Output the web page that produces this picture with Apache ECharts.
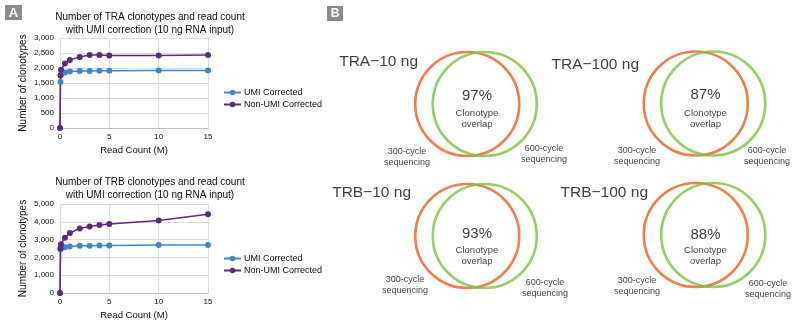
<!DOCTYPE html>
<html>
<head>
<meta charset="utf-8">
<script src="https://cdn.jsdelivr.net/npm/echarts@6/dist/echarts.min.js"></script>
<style>html,body{margin:0;padding:0;background:#fff;}#c{width:800px;height:321px;}</style>
</head>
<body>
<div id="c"></div>
<script>
// ---- Data ----
const readCounts = [0, 0.05, 0.1, 0.5, 1, 2, 3, 4, 5, 10, 15];
const traUmi    = [0, 1530, 1780, 1850, 1880, 1900, 1900, 1910, 1910, 1915, 1915];
const traNonUmi = [0, 1750, 1940, 2150, 2270, 2370, 2430, 2430, 2420, 2420, 2430];
const trbUmi    = [0, 2460, 2530, 2570, 2610, 2650, 2660, 2670, 2670, 2690, 2690];
const trbNonUmi = [0, 2500, 2740, 3110, 3370, 3630, 3740, 3815, 3870, 4075, 4420];
const seriesNames = ['UMI Corrected', 'Non-UMI Corrected'];
const chartTitles = [
  'Number of TRA clonotypes and read count\nwith UMI correction (10 ng RNA input)',
  'Number of TRB clonotypes and read count\nwith UMI correction (10 ng RNA input)'
];
const xTicks = [0, 5, 10, 15];
const traYTicks = [0, 500, 1000, 1500, 2000, 2500, 3000];
const trbYTicks = [0, 1000, 2000, 3000, 4000, 5000];
const vennTitles = ['TRA\u221210 ng', 'TRA\u2212100 ng', 'TRB\u221210 ng', 'TRB\u2212100 ng'];
const vennOverlap = [97, 87, 93, 88];
const vennLeftLabel = '300-cycle\nsequencing';
const vennRightLabel = '600-cycle\nsequencing';
const vennCenterLabel = 'Clonotype\noverlap';

// ---- Layout (pixel frame of panel B) ----
const vennLayout = [
  {cx: 476,   cy: 104,   tX: 418, tY: 62,  pY: 96,  cY: 119, lX: 407, lY: 157, rX: 544, rY: 154},
  {cx: 704.5, cy: 103.5, tX: 639, tY: 65,  pY: 95,  cY: 119, lX: 637, lY: 156, rX: 767, rY: 156},
  {cx: 476,   cy: 236,   tX: 411, tY: 193, pY: 234, cY: 256, lX: 405, lY: 285, rX: 545, rY: 288},
  {cx: 704.5, cy: 235,   tX: 648, tY: 193, pY: 235, cY: 256, lX: 637, lY: 286, rX: 768, rY: 289}
];
const vennHalfShift = 8.75;
const FONT = 'Liberation Sans, Arial, sans-serif';
const TXT = '#0d0d0d';
const BLUE = '#3e87c9';
const PURPLE = '#5c2a7c';
const ORANGE = '#e85f26';
const GREEN = '#7cc242';

const chart = echarts.init(document.getElementById('c'), null, {renderer: 'canvas'});

function pairs(xs, ys) { return xs.map((x, i) => [x, ys[i]]); }
const fmt = v => Number(v).toLocaleString('en-US');

function xAxisCfg(gridIndex) {
  return {
    gridIndex, type: 'value', min: xTicks[0], max: xTicks[xTicks.length - 1], interval: xTicks[1] - xTicks[0],
    name: 'Read Count (M)', nameLocation: 'middle', nameGap: 17,
    nameTextStyle: {fontFamily: FONT, fontSize: 9.5, color: TXT},
    axisLine: {show: true, lineStyle: {color: '#bfbfbf'}},
    axisTick: {show: false},
    axisLabel: {fontFamily: FONT, fontSize: 8, color: TXT, margin: 5},
    splitLine: {show: true, lineStyle: {color: '#dcdcdc', width: 1}}
  };
}
function yAxisCfg(gridIndex, ticks) {
  return {
    gridIndex, type: 'value', min: ticks[0], max: ticks[ticks.length - 1], interval: ticks[1] - ticks[0],
    name: 'Number of clonotypes', nameLocation: 'middle', nameGap: 32, nameRotate: 90,
    nameTextStyle: {fontFamily: FONT, fontSize: 10, color: TXT},
    axisLine: {show: false}, axisTick: {show: false},
    axisLabel: {fontFamily: FONT, fontSize: 8, color: TXT, margin: 6, formatter: fmt},
    splitLine: {show: true, lineStyle: {color: '#dcdcdc', width: 1}}
  };
}
function lineSeries(name, color, data, idx) {
  return {
    name, type: 'line', xAxisIndex: idx, yAxisIndex: idx, data,
    symbol: 'circle', symbolSize: 6, showSymbol: true,
    lineStyle: {color, width: 1.5}, itemStyle: {color},
    animation: false
  };
}

// Venn marks
const orangeCircles = vennLayout.map(l => [l.cx - vennHalfShift, l.cy]);
const greenCircles = vennLayout.map(l => [l.cx + vennHalfShift, l.cy]);
const textItems = [];
vennLayout.forEach((l, i) => {
  textItems.push({value: [l.tX, l.tY], label: {formatter: vennTitles[i], fontSize: 15.5, align: 'right', verticalAlign: 'middle'}});
  textItems.push({value: [l.cx + 1, l.pY], label: {formatter: vennOverlap[i] + '%', fontSize: 15, align: 'center', verticalAlign: 'middle'}});
  textItems.push({value: [l.cx + 1, l.cY], label: {formatter: vennCenterLabel, fontSize: 9.5, lineHeight: 10.5, align: 'center', verticalAlign: 'middle'}});
  textItems.push({value: [l.lX, l.lY], label: {formatter: vennLeftLabel, fontSize: 9, lineHeight: 10.5, align: 'center', verticalAlign: 'middle'}});
  textItems.push({value: [l.rX, l.rY], label: {formatter: vennRightLabel, fontSize: 9, lineHeight: 10.5, align: 'center', verticalAlign: 'middle'}});
});

const legendCfg = top => ({
  data: seriesNames, orient: 'vertical', left: 218, top,
  itemWidth: 17, itemHeight: 7, itemGap: 3,
  textStyle: {fontFamily: FONT, fontSize: 9, color: TXT, padding: [0, 0, 0, -2]},
  selectedMode: false
});

const option = {
  animation: false,
  backgroundColor: '#fff',
  textStyle: {fontFamily: FONT},
  title: [
    {text: chartTitles[0], left: 145, top: 5, textAlign: 'center',
     textStyle: {fontFamily: FONT, fontSize: 10, fontWeight: 'normal', color: TXT, lineHeight: 13.5}},
    {text: chartTitles[1], left: 145, top: 170, textAlign: 'center',
     textStyle: {fontFamily: FONT, fontSize: 10, fontWeight: 'normal', color: TXT, lineHeight: 13.5}}
  ],
  legend: [legendCfg(83), legendCfg(249)],
  grid: [
    {left: 60, top: 38, width: 148, height: 90},
    {left: 60, top: 204, width: 148, height: 90},
    {left: 0, top: 0, width: 800, height: 321}
  ],
  xAxis: [
    xAxisCfg(0), xAxisCfg(1),
    {gridIndex: 2, type: 'value', min: 0, max: 800, show: false}
  ],
  yAxis: [
    yAxisCfg(0, traYTicks), yAxisCfg(1, trbYTicks),
    {gridIndex: 2, type: 'value', min: 0, max: 321, inverse: true, show: false}
  ],
  series: [
    lineSeries(seriesNames[0], BLUE, pairs(readCounts, traUmi), 0),
    lineSeries(seriesNames[1], PURPLE, pairs(readCounts, traNonUmi), 0),
    lineSeries(seriesNames[0], BLUE, pairs(readCounts, trbUmi), 1),
    lineSeries(seriesNames[1], PURPLE, pairs(readCounts, trbNonUmi), 1),
    {type: 'scatter', xAxisIndex: 2, yAxisIndex: 2, data: orangeCircles, symbol: 'circle', symbolSize: 104, silent: true,
     itemStyle: {color: 'rgba(0,0,0,0)', borderColor: ORANGE, borderWidth: 2.6}},
    {type: 'scatter', xAxisIndex: 2, yAxisIndex: 2, data: greenCircles, symbol: 'circle', symbolSize: 104, silent: true,
     itemStyle: {color: 'rgba(0,0,0,0)', borderColor: GREEN, borderWidth: 2.6}},
    {type: 'scatter', xAxisIndex: 2, yAxisIndex: 2, data: textItems, symbolSize: 0, silent: true,
     itemStyle: {color: 'rgba(0,0,0,0)'},
     label: {show: true, position: 'inside', fontFamily: FONT, color: TXT}}
  ],
  graphic: [
    {type: 'group', left: 5, top: 5, children: [
      {type: 'rect', shape: {x: 0, y: 0, width: 17, height: 15}, style: {fill: '#8c8c8c'}},
      {type: 'text', x: 8.5, y: 8, style: {text: 'A', fill: '#fff', font: 'bold 13px ' + FONT, textAlign: 'center', textVerticalAlign: 'middle'}}
    ]},
    {type: 'group', left: 327, top: 6, children: [
      {type: 'rect', shape: {x: 0, y: 0, width: 16, height: 15}, style: {fill: '#8c8c8c'}},
      {type: 'text', x: 8, y: 8, style: {text: 'B', fill: '#fff', font: 'bold 12px ' + FONT, textAlign: 'center', textVerticalAlign: 'middle'}}
    ]}
  ]
};
chart.setOption(option);
</script>
</body>
</html>
